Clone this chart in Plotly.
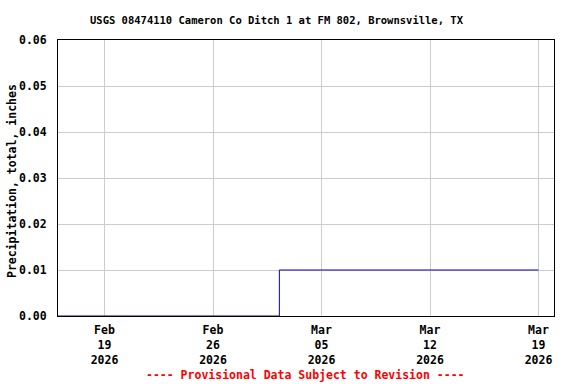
import plotly.graph_objects as go

# Data
times = ["2026-02-16 00:00", "2026-03-02 06:45", "2026-03-19 00:00"]
precip = [0.0, 0.01, 0.01]

tick_dates = ["2026-02-19", "2026-02-26", "2026-03-05", "2026-03-12", "2026-03-19"]
tick_labels = ["Feb<br>19<br>2026", "Feb<br>26<br>2026", "Mar<br>05<br>2026",
               "Mar<br>12<br>2026", "Mar<br>19<br>2026"]
y_ticks = [0.0, 0.01, 0.02, 0.03, 0.04, 0.05, 0.06]
y_labels = ["0.00", "0.01", "0.02", "0.03", "0.04", "0.05", "0.06"]

title = "USGS 08474110 Cameron Co Ditch 1 at FM 802, Brownsville, TX"
y_title = "Precipitation, total, inches"
footer = "---- Provisional Data Subject to Revision ----"

FONT = "DejaVu Sans Mono"
FS = 11.5

W, H = 576, 384
L, R, T, B = 58, 22, 40, 68

fig = go.Figure()
fig.add_trace(go.Scatter(
    x=times, y=precip, mode="lines", line_shape="hv",
    line=dict(color="#0000cc", width=1), showlegend=False,
))

pw, ph = W - L - R, H - T - B


def to_paper(px, py):
    return (px - L) / pw, (H - B - py) / ph


tx, ty = to_paper(277, 20)
fx, fy = to_paper(305, 375)
yx, yy = to_paper(12, 181)

fig.update_layout(
    width=W, height=H,
    margin=dict(l=L, r=R, t=T, b=B, autoexpand=False),
    paper_bgcolor="white", plot_bgcolor="white",
    font=dict(family=FONT, size=FS, color="black", weight="bold"),
    xaxis=dict(
        range=["2026-02-16 00:00", "2026-03-20 00:00"],
        tickmode="array", tickvals=tick_dates, ticktext=tick_labels,
        showgrid=True, gridcolor="#cccccc", gridwidth=1,
        showline=True, linecolor="black", linewidth=1, mirror=True,
        ticks="", zeroline=False, ticklabelstandoff=3, automargin=False,
        tickfont=dict(family=FONT, size=FS, color="black", weight="bold"),
    ),
    yaxis=dict(
        range=[0, 0.06],
        tickmode="array", tickvals=y_ticks, ticktext=y_labels,
        showgrid=True, gridcolor="#cccccc", gridwidth=1,
        showline=True, linecolor="black", linewidth=1, mirror=True,
        ticks="", zeroline=False, ticklabelstandoff=8, automargin=False,
        tickfont=dict(family=FONT, size=FS, color="black", weight="bold"),
    ),
    annotations=[
        dict(text=title, x=tx, y=ty, xref="paper", yref="paper",
             xanchor="center", yanchor="middle", showarrow=False,
             font=dict(family=FONT, size=10.5, color="black", weight="bold")),
        dict(text=y_title, x=yx, y=yy, xref="paper", yref="paper",
             xanchor="center", yanchor="middle", showarrow=False, textangle=-90,
             font=dict(family=FONT, size=FS, color="black", weight="bold")),
        dict(text=footer, x=fx, y=fy, xref="paper", yref="paper",
             xanchor="center", yanchor="middle", showarrow=False,
             font=dict(family=FONT, size=FS, color="#ff0000", weight="bold")),
    ],
)

fig.write_html("out.html",
               config={"displayModeBar": False},
               post_script="document.body.style.margin='0';")
